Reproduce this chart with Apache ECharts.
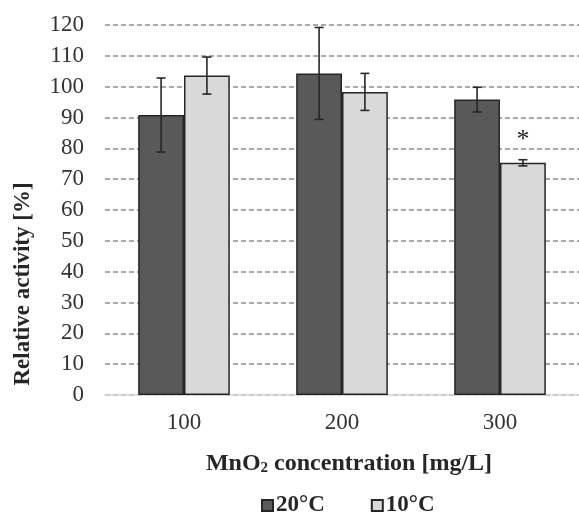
<!DOCTYPE html>
<html lang="en">
<head>
    <meta charset="UTF-8">
    <title>Relative activity</title>
    <script src="https://cdn.jsdelivr.net/npm/echarts@6/dist/echarts.min.js"></script>
    <style>
        html, body { margin: 0; padding: 0; background: #fff; }
        #main { width: 579px; height: 513px; }
    </style>
</head>
<body>
<div id="main"></div>
<script type="text/javascript">
    // data
    var categories = ['100', '200', '300'];
    var seriesNames = ['20°C', '10°C'];
    var warm = [90.8, 104.3, 95.8];
    var warmErr = [12, 14.9, 4];
    var cold = [103.6, 98.3, 75.3];
    var coldErr = [6, 6, 1];
    var coldMarks = ['', '', '*'];
    var yTicks = [0, 120, 10]; // min, max, interval

    var FONT = '"Liberation Serif", "Times New Roman", serif';
    var GAP = 0.42;

    function errorSeries(values, errs, side) {
        var data = values.map(function (v, i) { return [i, v - errs[i], v + errs[i]]; });
        return {
            type: 'custom',
            z: 10,
            silent: true,
            data: data,
            renderItem: function (params, api) {
                var band = api.size([1, 0])[0];
                var off = side * band * (1 - GAP) / 4;
                var lo = api.coord([api.value(0), api.value(1)]);
                var hi = api.coord([api.value(0), api.value(2)]);
                var x = lo[0] + off;
                var cap = 4.5;
                var st = { stroke: '#262626', lineWidth: 1.6 };
                return {
                    type: 'group',
                    children: [
                        { type: 'line', shape: { x1: x, y1: hi[1], x2: x, y2: lo[1] }, style: st },
                        { type: 'line', shape: { x1: x - cap, y1: hi[1], x2: x + cap, y2: hi[1] }, style: st },
                        { type: 'line', shape: { x1: x - cap, y1: lo[1], x2: x + cap, y2: lo[1] }, style: st }
                    ]
                };
            }
        };
    }

    var myChart = echarts.init(document.getElementById('main'));
    var option = {
        animation: false,
        textStyle: { fontFamily: FONT },
        grid: { left: 105, top: 25, width: 477, height: 370 },
        legend: {
            left: 261,
            top: 494,
            padding: 0,
            itemWidth: 11,
            itemHeight: 11,
            itemGap: 46,
            icon: 'rect',
            data: seriesNames,
            textStyle: { fontFamily: FONT, fontSize: 23, fontWeight: 'bold', color: '#262626', padding: [0, 0, 0, -2] }
        },
        xAxis: {
            type: 'category',
            data: categories,
            axisTick: { show: false },
            axisLine: { lineStyle: { color: '#d9d9d9', width: 1.5 } },
            axisLabel: { fontFamily: FONT, fontSize: 23, color: '#333', margin: 16 },
            name: '{b|MnO}{s|2}{b| concentration [mg/L]}',
            nameLocation: 'middle',
            nameGap: 56,
            nameTextStyle: {
                padding: [0, 0, 0, 14],
                rich: {
                    b: { fontFamily: FONT, fontSize: 24, fontWeight: 'bold', color: '#262626' },
                    s: { fontFamily: FONT, fontSize: 15, fontWeight: 'bold', color: '#262626', verticalAlign: 'bottom', padding: [10, 0, 0, 0] }
                }
            }
        },
        yAxis: {
            type: 'value',
            min: yTicks[0],
            max: yTicks[1],
            interval: yTicks[2],
            axisLine: { show: false },
            axisTick: { show: false },
            axisLabel: { fontFamily: FONT, fontSize: 23, color: '#333', margin: 21 },
            splitLine: { lineStyle: { color: '#8c8c8c', width: 1.5, type: [5, 3] } }
        },
        graphic: [{
            type: 'text',
            x: 23,
            y: 284,
            rotation: Math.PI / 2,
            style: {
                text: 'Relative activity [%]',
                font: 'bold 23px ' + FONT,
                fill: '#262626',
                align: 'center',
                verticalAlign: 'middle'
            }
        }],
        series: [
            {
                name: seriesNames[0],
                type: 'bar',
                data: warm,
                barGap: '0%',
                barCategoryGap: (GAP * 100) + '%',
                itemStyle: { color: '#595959', borderColor: '#262626', borderWidth: 1.5 }
            },
            {
                name: seriesNames[1],
                type: 'bar',
                data: cold.map(function (v, i) {
                    return {
                        value: v,
                        label: {
                            show: coldMarks[i] !== '',
                            position: 'top',
                            distance: 10,
                            formatter: coldMarks[i],
                            fontFamily: FONT,
                            fontSize: 26,
                            color: '#262626'
                        }
                    };
                }),
                itemStyle: { color: '#d9d9d9', borderColor: '#262626', borderWidth: 1.5 }
            },
            errorSeries(warm, warmErr, -1),
            errorSeries(cold, coldErr, 1)
        ]
    };
    myChart.setOption(option);
</script>
</body>
</html>
